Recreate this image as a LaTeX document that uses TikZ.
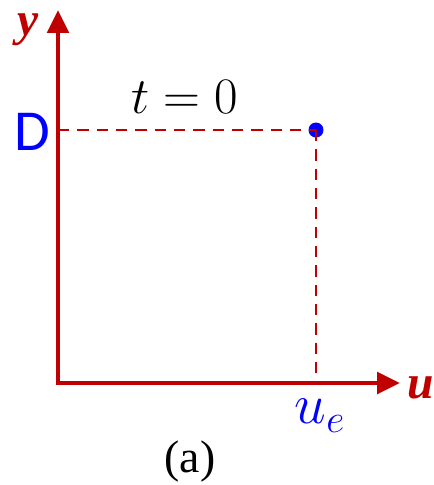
\documentclass[tikz,border=0pt]{standalone}
\usepackage{graphicx}
\usepackage{fontspec}
\newfontfamily\calib{Carlito}
\newfontfamily\tnr{Liberation Serif}
\definecolor{axisred}{RGB}{192,0,0}
\definecolor{ptblue}{RGB}{0,0,255}
\usetikzlibrary{arrows.meta, positioning}

\begin{document}
\begin{tikzpicture}[x=0.02cm, y=-0.02cm,
    axis/.style={axisred, line width=2.8pt, -{Triangle[length=13pt, width=12pt]}},
    guide/.style={axisred, line width=1.1pt, dash pattern=on 6.5pt off 4.5pt},
    axlabel/.style={axisred, font=\fontsize{27}{30}\selectfont\tnr\bfseries\itshape},
    bluelab/.style={ptblue, inner sep=0pt},
    txt/.style={inner sep=0pt, font=\fontsize{26}{30}\selectfont}
  ]
    \useasboundingbox (0,0) rectangle (434,485);

    \coordinate (O) at (58,383);
    \coordinate (ytip) at (58,10);
    \coordinate (utip) at (400,383);
    \coordinate (ue) at (316,383);
    \coordinate (yd) at (58,130);
    \node[circle, fill=ptblue, inner sep=0pt, minimum size=0.3cm] (pt) at (316,130) {};

    \draw[guide] (yd) -- (pt.center);
    \draw[guide] (pt.center) -- (ue);

    \draw[axis] ([yshift=-1.4pt]O) -- (ytip);
    \draw[axis] ([xshift=-1.4pt]O) -- (utip);

    \node[axlabel] (ylab) at (28,30) {y};
    \node[axlabel] (ulab) at (421,388) {u};
    \node[bluelab, font=\fontsize{33}{36}\selectfont\calib] (dlab) at (32,132) {D};
    \node[bluelab, txt] (uelab) at (320,416) {\scalebox{1.3}{$u_e$}};
    \node[txt] (tlab) at (185,97) {\scalebox{1.17}{$t=0$}};
    \node[txt, font=\fontsize{26}{30}\selectfont\tnr] (cap) at (190,462) {(a)};
\end{tikzpicture}
\end{document}
